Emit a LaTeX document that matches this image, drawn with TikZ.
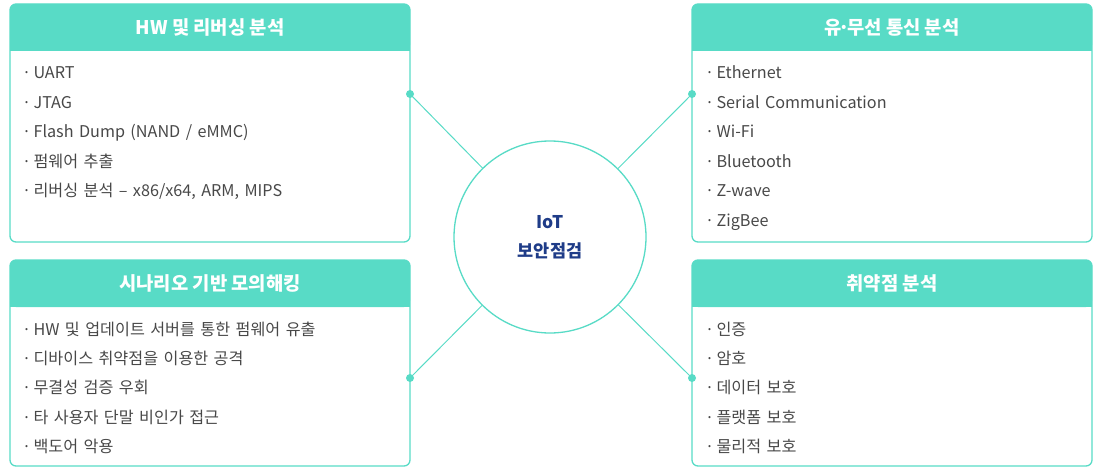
\documentclass[tikz,border=0pt]{standalone}
\usepackage{fontspec}
\setmainfont{Noto Sans CJK KR}
\usetikzlibrary{positioning, backgrounds}

\definecolor{mint}{HTML}{58DBC6}
\definecolor{itemgray}{HTML}{484848}
\definecolor{navy}{HTML}{1F3C88}

\newcommand\dotmark{·\kern2.5pt}

\tikzset{
  panel/.style={draw=mint, line width=1.3pt, rounded corners=6pt,
                minimum width=400pt, anchor=north west},
  header/.style={fill=mint, rounded corners=6pt, minimum width=400pt, minimum height=47pt,
                 anchor=north, text=white, font=\fontsize{18.8}{20}\selectfont\bfseries},
  item/.style={anchor=north west, text width=370pt, align=left, text=itemgray,
               font=\fontsize{16.2}{18}\selectfont, text height=19pt, text depth=10.4pt},
  link/.style={draw=mint, line width=1pt},
  knob/.style={fill=mint}
}

\begin{document}
\begin{tikzpicture}[x=1pt,y=-1pt,every node/.style={inner sep=0,outer sep=0}]
      \useasboundingbox (0,0) rectangle (1097,468);

      % top left
      \node(hw)[panel, minimum height=238pt] at (10,4) {};
      \node(hwhead)[header] at (hw.north) {HW 및 리버싱 분석};
      \node(uart)[item] at (22,60) {\dotmark UART};
      \node(jtag)[item, below=0pt of uart]{\dotmark JTAG};
      \node(flash)[item, below=0pt of jtag]{\dotmark Flash Dump (NAND / eMMC)};
      \node(fwext)[item, below=0pt of flash]{\dotmark 펌웨어 추출};
      \node(rev)[item, below=0pt of fwext]{\dotmark 리버싱 분석 – x86/x64, ARM, MIPS};

      % top right
      \node(net)[panel, minimum height=238pt] at (692,4) {};
      \node(nethead)[header] at (net.north) {유\kern-3pt·\kern-3pt무선 통신 분석};
      \node(eth)[item] at (705,60) {\dotmark Ethernet};
      \node(serial)[item, below=0pt of eth]{\dotmark Serial Communication};
      \node(wifi)[item, below=0pt of serial]{\dotmark Wi-Fi};
      \node(bt)[item, below=0pt of wifi]{\dotmark Bluetooth};
      \node(zwave)[item, below=0pt of bt]{\dotmark Z-wave};
      \node(zigbee)[item, below=0pt of zwave]{\dotmark ZigBee};

      % bottom left
      \node(pen)[panel, minimum height=206pt] at (10,260) {};
      \node(penhead)[header] at (pen.north) {시나리오 기반 모의해킹};
      \node(leak)[item] at (22,316) {\dotmark HW 및 업데이트 서버를 통한 펌웨어 유출};
      \node(attack)[item, below=0pt of leak]{\dotmark 디바이스 취약점을 이용한 공격};
      \node(bypass)[item, below=0pt of attack]{\dotmark 무결성 검증 우회};
      \node(access)[item, below=0pt of bypass]{\dotmark 타 사용자 단말 비인가 접근};
      \node(backdoor)[item, below=0pt of access]{\dotmark 백도어 악용};

      % bottom right
      \node(vul)[panel, minimum height=206pt] at (692,260) {};
      \node(vulhead)[header] at (vul.north) {취약점 분석};
      \node(auth)[item] at (705,316) {\dotmark 인증};
      \node(crypto)[item, below=0pt of auth]{\dotmark 암호};
      \node(data)[item, below=0pt of crypto]{\dotmark 데이터 보호};
      \node(platform)[item, below=0pt of data]{\dotmark 플랫폼 보호};
      \node(phys)[item, below=0pt of platform]{\dotmark 물리적 보호};

      % square off the lower corners of the headers
      \begin{scope}[on background layer]
        \foreach \h in {hwhead,nethead,penhead,vulhead}
          \fill[mint](\h.west) rectangle (\h.south east);
      \end{scope}

      % center
      \node(core)[circle, draw=mint, line width=1.3pt, fill=white, minimum size=192pt,
                  align=center, text=navy, font=\fontsize{17.5}{29}\selectfont\bfseries]
                  at (550,237) {IoT\\보안점검};

      \coordinate(hwdot) at (hw.east |- 0,94);
      \coordinate(netdot) at (net.west |- 0,94);
      \coordinate(pendot) at (pen.east |- 0,378);
      \coordinate(vuldot) at (vul.west |- 0,378);

      \draw[link](hwdot)--(core);
      \draw[link](netdot)--(core);
      \draw[link](pendot)--(core);
      \draw[link](vuldot)--(core);
      \foreach \d in {hwdot,netdot,pendot,vuldot}
        \fill[knob](\d) circle (4pt);
    \end{tikzpicture}
\end{document}
